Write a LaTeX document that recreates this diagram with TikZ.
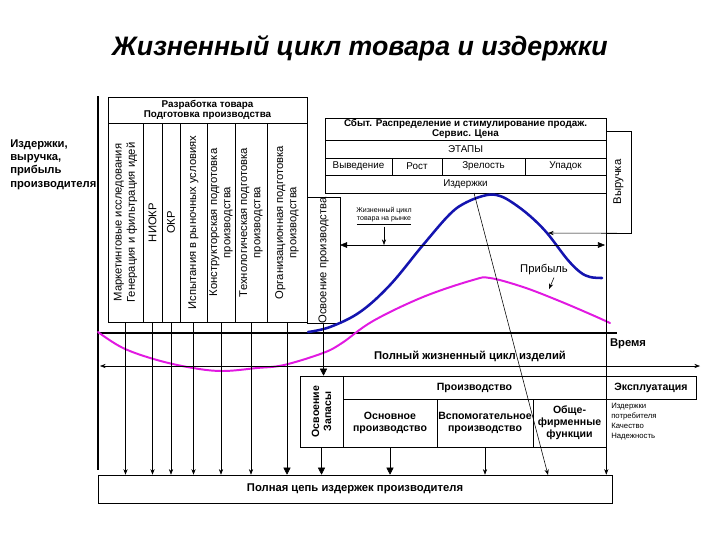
\documentclass[tikz,border=0pt]{standalone}
\usepackage{fontspec}
\setmainfont{Liberation Sans}
\usepackage{tikz}
\usepackage{xcolor}
\usetikzlibrary{calc,arrows.meta}

\definecolor{curveblue}{RGB}{20,20,175}
\definecolor{curvemag}{RGB}{225,25,225}
\def\pu{0.025cm}

\begin{document}
\begin{tikzpicture}[x=0.025cm,y=-0.025cm]
        \tikzstyle{cell}=[draw,rectangle,inner sep=0pt,align=center,font=\fontsize{7}{7.5}\selectfont]
        \tikzstyle{bcell}=[cell,font=\fontsize{7}{7.5}\selectfont\bfseries]
        \tikzstyle{vcell}=[cell,rotate=90,font=\fontsize{8}{9.5}\selectfont]
        \tikzstyle{lbl}=[inner sep=0pt,align=center,font=\fontsize{8}{9.5}\selectfont\bfseries]
        \tikzstyle{small}=[-{Stealth[length=4pt,width=3pt]}]
        \tikzstyle{big}=[-{Triangle[length=5pt,width=5pt]}]
        \useasboundingbox (0,0) rectangle (720,540);

            \node[font=\fontsize{19}{22}\selectfont\bfseries\itshape] (title) at (360,48) {Жизненный цикл товара и издержки};
            \node[lbl,align=left,anchor=north west] (ylab) at (10,139) {Издержки,\\выручка,\\прибыль\\производителя};

            % axes
            \coordinate (ytop) at (98,96);
            \coordinate (ybot) at (98,470);
            \coordinate (xend) at (617,333);
            \draw[line width=1.8pt] (ytop) -- (ybot);
            \draw[line width=2pt] (98,333) -- (xend);
            \node[lbl] (time) at (628,344) {Время};

            % product development
            \node[bcell,minimum width=199*\pu,minimum height=26*\pu] (dev) at (207.5,110) {Разработка товара\\Подготовка производства};
            \node[vcell,minimum width=199*\pu,minimum height=35*\pu] (c1) at (125.5,222.5) {Маркетинговые исследования\\Генерация и фильтрация идей};
            \node[vcell,minimum width=199*\pu,minimum height=19*\pu] (c2) at (152.5,222.5) {НИОКР};
            \node[vcell,minimum width=199*\pu,minimum height=18*\pu] (c3) at (171,222.5) {ОКР};
            \node[vcell,minimum width=199*\pu,minimum height=27*\pu] (c4) at (193.5,222.5) {Испытания в рыночных условиях};
            \node[vcell,minimum width=199*\pu,minimum height=28*\pu] (c5) at (221,222.5) {Конструкторская подготовка\\производства};
            \node[vcell,minimum width=199*\pu,minimum height=32*\pu] (c6) at (251,222.5) {Технологическая подготовка\\производства};
            \node[vcell,minimum width=199*\pu,minimum height=40*\pu] (c7) at (287,222.5) {Организационная подготовка\\производства};
            \node[vcell,minimum width=125*\pu,minimum height=33*\pu] (osv) at (323.5,260.5) {Освоение производства};

            % sales table
            \node[bcell,minimum width=281*\pu,minimum height=22*\pu] (sbyt) at (465.5,129) {Сбыт. Распределение и стимулирование продаж.\\Сервис. Цена};
            \node[cell,minimum width=281*\pu,minimum height=18*\pu] (etapy) at (465.5,149) {ЭТАПЫ};
            \node[cell,minimum width=67*\pu,minimum height=17*\pu] (vyv) at (358.5,166.5) {Выведение};
            \node[cell,minimum width=50*\pu,minimum height=17*\pu] (rost) at (417,166.5) {Рост};
            \node[cell,minimum width=83*\pu,minimum height=17*\pu] (zrel) at (483.5,166.5) {Зрелость};
            \node[cell,minimum width=81*\pu,minimum height=17*\pu] (upad) at (565.5,166.5) {Упадок};
            \node[cell,minimum width=281*\pu,minimum height=18*\pu] (izd) at (465.5,184) {Издержки};
            \node[vcell,minimum width=102*\pu,minimum height=25*\pu] (vyr) at (618.5,182) {Выручка};

            % curves
            \draw[curveblue,line width=1.8pt,line cap=round] plot[smooth,tension=0.6] coordinates {(308,332) (330,327) (360,312) (390,285) (423,245) (450,214) (467,202) (487,195) (500,196) (513,203) (530,216) (547,233) (567,259) (580,272) (590,277) (602,278)};
            \draw[curvemag,line width=1.4pt,line cap=round] plot[smooth,tension=0.6] coordinates {(98,332) (123,348) (157,360) (193,368) (223,371) (257,368) (284,365) (323,353) (342,343) (373,321) (423,297) (473,280) (490,278) (523,287) (557,300) (590,314) (610,323)};

            % market life cycle
            \coordinate (mkl) at (340,245);
            \coordinate (mkr) at (605,245);
            \draw[{Triangle[length=5pt,width=4pt]}-{Triangle[length=5pt,width=4pt]}] (mkl) -- (mkr);
            \node[font=\fontsize{5}{6}\selectfont,align=center,inner sep=1pt] (mklab) at (384,216) {Жизненный цикл\\\underline{товара на рынке}};
            \draw[small] (mklab.south) -- (mklab.south |- mkl);

            \coordinate (bluept) at (548,233);
            \draw[small] (vyr.west) -- (bluept);
            \node[font=\fontsize{8}{9}\selectfont,inner sep=0pt] (prib) at (544,270) {Прибыль};
            \coordinate (pribpt) at (549,289);
            \draw[small] ($(prib.south)+(10,2)$) -- (pribpt);

            % full life cycle
            \coordinate (fl) at (100,366);
            \coordinate (fr) at (700,366);
            \draw[{Stealth[length=4pt,width=3pt]}-{Stealth[length=4pt,width=3pt]}] (fl) -- (fr);
            \node[lbl] (fulllab) at (470,356) {Полный жизненный цикл изделий};

            % production and use
            \node[vcell,font=\fontsize{7.5}{8.5}\selectfont\bfseries,minimum width=71*\pu,minimum height=43*\pu] (osz) at (321.5,411.5) {Освоение\\Запасы};
            \node[bcell,font=\fontsize{7.5}{8.5}\selectfont\bfseries,minimum width=263*\pu,minimum height=23*\pu] (prod) at (474.5,387.5) {Производство};
            \node[bcell,font=\fontsize{7.5}{8.5}\selectfont\bfseries,minimum width=94*\pu,minimum height=48*\pu] (osn) at (390,423) {Основное\\производство};
            \node[bcell,font=\fontsize{7.5}{8.5}\selectfont\bfseries,minimum width=96*\pu,minimum height=48*\pu] (vsp) at (485,423) {Вспомогательное\\производство};
            \node[bcell,font=\fontsize{7.5}{8.5}\selectfont\bfseries,minimum width=73*\pu,minimum height=48*\pu] (obsh) at (569.5,423) {Обще-\\фирменные\\функции};
            \node[bcell,font=\fontsize{7.5}{8.5}\selectfont\bfseries,minimum width=90*\pu,minimum height=23*\pu] (expl) at (651,387.5) {Эксплуатация};
            \node[font=\fontsize{5.5}{7}\selectfont,align=left,anchor=north west,inner sep=0pt] (explb) at (611,403) {Издержки\\потребителя\\Качество\\Надежность};

            % full cost chain
            \node[lbl,draw,minimum width=514*\pu,minimum height=28*\pu] (chain) at (355,489) {Полная цепь издержек производителя};

            \foreach \c in {c1,c2,c3,c4,c5,c6}
                \draw[small] (\c.west) -- (\c.west |- chain.north);
            \draw[big] (c7.west) -- (c7.west |- chain.north);
            \draw (izd.south east) -- (obsh.north east);
            \draw[big] (osv.west) -- (osv.west |- osz.east);
            \draw[big] (osz.west) -- (osz.west |- chain.north);
            \draw[big] (osn.south) -- (osn.south |- chain.north);
            \draw[small] (vsp.south) -- (vsp.south |- chain.north);
            \draw[small] (obsh.south east) -- (obsh.south east |- chain.north);
            \coordinate (dtop) at (474,193);
            \coordinate (dbot) at (548,475);
            \draw[small] (dtop) -- (dbot);

        \end{tikzpicture}
\end{document}
